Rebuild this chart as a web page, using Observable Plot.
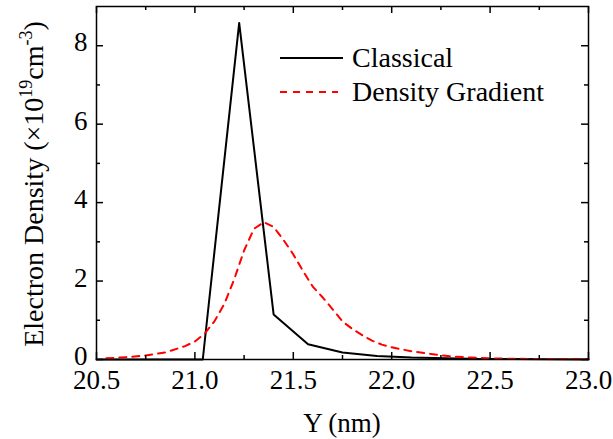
<!DOCTYPE html>
<html>
<head>
<meta charset="utf-8">
<script src="https://cdn.jsdelivr.net/npm/d3@7"></script>
<script src="https://cdn.jsdelivr.net/npm/@observablehq/plot@0.6"></script>
<style>
  html, body { margin: 0; padding: 0; background: white; }
</style>
</head>
<body>
<div id="chart"></div>
<script>
// Classical (solid black)
const classicalX = [20.5, 21.04, 21.225, 21.40, 21.575, 21.75, 21.925, 22.10, 22.275, 22.45, 22.625, 22.80, 23.0];
const classicalY = [0, 0, 8.58, 1.15, 0.39, 0.18, 0.09, 0.05, 0.03, 0.015, 0.01, 0.005, 0.002];

// Density Gradient (dashed red)
const densityX = [20.55, 20.65, 20.75, 20.85, 20.95, 21.0, 21.05, 21.1, 21.15, 21.2, 21.25, 21.3, 21.35, 21.4, 21.45, 21.5, 21.55, 21.6, 21.65, 21.7, 21.75, 21.8, 21.85, 21.9, 21.95, 22.0, 22.1, 22.2, 22.3, 22.4, 22.5, 22.6, 22.7, 22.8, 22.9, 23.0];
const densityY = [0.03, 0.06, 0.10, 0.18, 0.34, 0.46, 0.66, 0.98, 1.42, 2.05, 2.78, 3.33, 3.50, 3.38, 3.05, 2.68, 2.25, 1.85, 1.58, 1.28, 0.97, 0.78, 0.62, 0.48, 0.38, 0.31, 0.21, 0.14, 0.08, 0.05, 0.03, 0.02, 0.015, 0.01, 0.01, 0.01];

const xMajorTicks = [20.5, 21.0, 21.5, 22.0, 22.5, 23.0];
const xMinorTicks = [20.75, 21.25, 21.75, 22.25, 22.75];
const yMajorTicks = [0, 2, 4, 6, 8];
const yMinorTicks = [1, 3, 5, 7];

const seriesNames = ["Classical", "Density Gradient"];

const classical = classicalX.map((x, i) => ({x, y: classicalY[i]}));
const density = densityX.map((x, i) => ({x, y: densityY[i]}));

const FONT = "'Liberation Serif', 'Times New Roman', serif";
const W = 613, H = 439, ML = 96, MR = 25, MT = 6, MB = 80;
const FW = W - ML - MR, FH = H - MT - MB;
const MAJ = 7, MIN = 4;

const plot = Plot.plot({
  width: W,
  height: H,
  marginLeft: ML,
  marginRight: MR,
  marginTop: MT,
  marginBottom: MB,
  x: {domain: [20.5, 23.0]},
  y: {domain: [0, 9]},
  style: {fontFamily: FONT, fontSize: "27px", color: "black", background: "white"},
  marks: [
    Plot.line(classical, {x: "x", y: "y", stroke: "black", strokeWidth: 2}),
    Plot.line(density, {x: "x", y: "y", stroke: "red", strokeWidth: 2, strokeDasharray: "7,6"}),
    // inward ticks
    Plot.ruleX(xMajorTicks, {x: d => d, insetTop: FH - MAJ, stroke: "black", strokeWidth: 1.5}),
    Plot.ruleX(xMajorTicks, {x: d => d, insetBottom: FH - MAJ, stroke: "black", strokeWidth: 1.5}),
    Plot.ruleX(xMinorTicks, {x: d => d, insetTop: FH - MIN, stroke: "black", strokeWidth: 1.5}),
    Plot.ruleX(xMinorTicks, {x: d => d, insetBottom: FH - MIN, stroke: "black", strokeWidth: 1.5}),
    Plot.ruleY(yMajorTicks, {y: d => d, insetRight: FW - MAJ, stroke: "black", strokeWidth: 1.5}),
    Plot.ruleY(yMajorTicks, {y: d => d, insetLeft: FW - MAJ, stroke: "black", strokeWidth: 1.5}),
    Plot.ruleY(yMinorTicks, {y: d => d, insetRight: FW - MIN, stroke: "black", strokeWidth: 1.5}),
    Plot.ruleY(yMinorTicks, {y: d => d, insetLeft: FW - MIN, stroke: "black", strokeWidth: 1.5}),
    Plot.frame({stroke: "black", strokeWidth: 1.5}),
    // tick labels
    Plot.axisX({anchor: "bottom", ticks: xMajorTicks, tickSize: 0, tickPadding: 10, tickFormat: d3.format(".1f"), fontSize: 27, label: null}),
    Plot.axisY({anchor: "left", ticks: yMajorTicks, tickSize: 0, tickPadding: 9, dy: -3, fontSize: 27, label: null})
  ]
});

const svg = d3.select(plot);

// x axis title
svg.append("text")
  .attr("x", ML + FW / 2).attr("y", 432)
  .attr("text-anchor", "middle")
  .attr("font-family", FONT).attr("font-size", 27).attr("fill", "black")
  .text("Y (nm)");

// y axis title with superscripts
const yt = svg.append("text")
  .attr("transform", "translate(43,184) rotate(-90)")
  .attr("text-anchor", "middle")
  .attr("font-family", FONT).attr("font-size", 28).attr("fill", "black");
yt.append("tspan").text("Electron Density (\u00d710");
yt.append("tspan").attr("font-size", 18).attr("dy", -11).text("19");
yt.append("tspan").attr("dy", 11).text("cm");
yt.append("tspan").attr("font-size", 18).attr("dy", -11).text("-3");
yt.append("tspan").attr("dy", 11).text(")");

// legend
const legend = svg.append("g");
const legendItems = [
  {name: seriesNames[0], stroke: "black", dash: null, y: 58, x2: 343},
  {name: seriesNames[1], stroke: "red", dash: "7,6", y: 92, x2: 338}
];
legendItems.forEach(d => {
  legend.append("line")
    .attr("x1", 280).attr("x2", d.x2).attr("y1", d.y).attr("y2", d.y)
    .attr("stroke", d.stroke).attr("stroke-width", 2)
    .attr("stroke-dasharray", d.dash);
  legend.append("text")
    .attr("x", 352).attr("y", d.y + 9)
    .attr("text-anchor", "start")
    .attr("font-family", FONT).attr("font-size", 28).attr("fill", "black")
    .text(d.name);
});

document.getElementById("chart").appendChild(plot);
</script>
</body>
</html>
